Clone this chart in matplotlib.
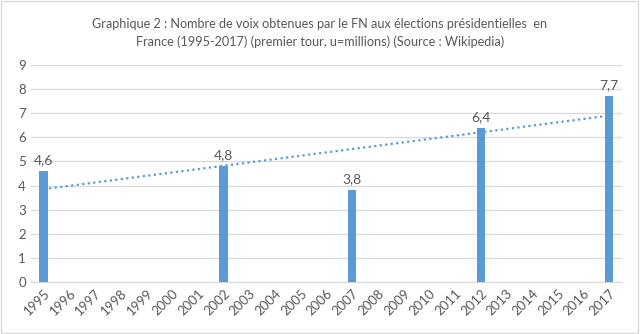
import numpy as np
import matplotlib
matplotlib.use("Agg")
import matplotlib.pyplot as plt
from matplotlib.patches import Rectangle

years = [str(y) for y in range(1995, 2018)]
vote_years = ["1995", "2002", "2007", "2012", "2017"]
votes = [4.6, 4.8, 3.8, 6.4, 7.7]
labels = ["4,6", "4,8", "3,8", "6,4", "7,7"]

plt.rcParams['font.family'] = ['Lato', 'DejaVu Sans']
grey = '#595959'
blue = '#5B9BD5'

fig = plt.figure(figsize=(6.4, 3.34), dpi=100)
ax = fig.add_axes([0.048, 0.156, 0.924, 0.649])

xpos = [years.index(y) for y in vote_years]
ax.bar(xpos, votes, width=0.32, color=blue, zorder=3)
for x, v, s in zip(xpos, votes, labels):
    ax.text(x, v + 0.2, s, ha='center', va='bottom', color=grey, fontsize=10)

# linear trendline, like Excel's
k, b = np.polyfit(xpos, votes, 1)
tx = np.array([0, len(years) - 1])
ax.plot(tx, k * tx + b, color=blue, linestyle=(0, (1, 1.5)), linewidth=1.6, zorder=4)

ax.set_xlim(-0.5, len(years) - 0.5)
ax.set_ylim(0, 9)
ax.set_xticks(range(len(years)))
ax.set_xticklabels(years, rotation=45, ha='right', rotation_mode='anchor')
ax.set_yticks(range(10))
ax.tick_params(colors=grey, labelsize=9.5, length=0)
ax.tick_params(axis='x', pad=4)
ax.grid(axis='y', color='#D9D9D9', linewidth=0.9, zorder=0)
for s in ['top', 'right', 'left']:
    ax.spines[s].set_visible(False)
ax.spines['bottom'].set_color('#D9D9D9')

fig.text(0.5, 0.945, "Graphique 2 : Nombre de voix obtenues par le FN aux élections présidentielles  en\n"
         "France (1995-2017) (premier tour, u=millions) (Source : Wikipedia)",
         ha='center', va='top', color=grey, fontsize=9.1, linespacing=1.45)

fig.patches.append(Rectangle((0.002, 0.003), 0.995, 0.993, transform=fig.transFigure,
                             fill=False, edgecolor='#D9D9D9', linewidth=1))

fig.savefig("out.png", dpi=100)
